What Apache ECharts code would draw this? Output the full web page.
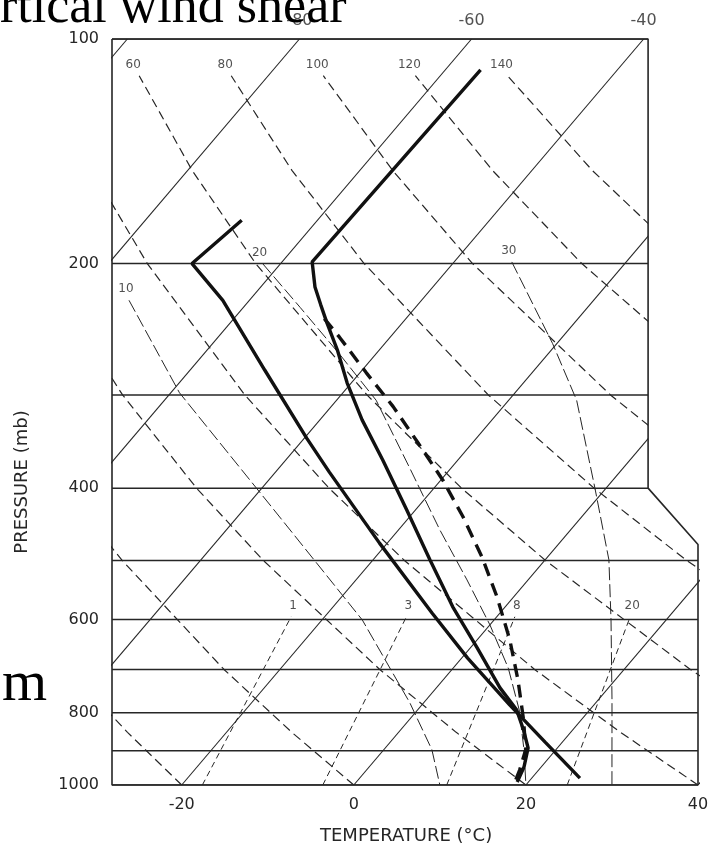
<!DOCTYPE html>
<html><head><meta charset="utf-8">
<script src="https://cdn.jsdelivr.net/npm/echarts@6/dist/echarts.min.js"></script>
<style>html,body{margin:0;padding:0;background:#fff}#chart{width:724px;height:852px}</style>
</head><body><div id="chart"></div>
<script>
// ---------- data (temperature °C, pressure mb) ----------
const pressureTicks = [100, 200, 400, 600, 800, 1000];
const temperatureTicks = [-20, 0, 20, 40];
const topIsothermLabels = [-80, -60, -40];
const isobars = [100, 200, 300, 400, 500, 600, 700, 800, 900, 1000];
const isotherms = [-120, -100, -80, -60, -40, -20, 0, 20, 40];

// dry adiabats [T, p]
const dryM20 = [[-20,1000],[-31.5,850],[-44.6,700],[-65.5,500]];
const dry0   = [[0,1000],[-12.4,850],[-26.5,700],[-49.1,500],[-63.0,400]];
const dry20  = [[20,1000],[6.7,850],[-8.4,700],[-32.7,500],[-47.6,400],[-65.4,300],[-88.1,200]];
const dry40  = [[40,1000],[25.8,850],[9.6,700],[-16.3,500],[-32.2,400],[-51.2,300],[-75.5,200],[-91.1,150]];
const dry60  = [[44.9,850],[27.7,700],[0.1,500],[-16.8,400],[-37.0,300],[-62.9,200],[-79.5,150],[-95.0,112]];
const dry80  = [[45.7,700],[16.5,500],[-1.4,400],[-22.9,300],[-50.3,200],[-67.9,150],[-84.3,112]];
const dry100 = [[32.9,500],[14.0,400],[-8.7,300],[-37.7,200],[-56.2,150],[-73.6,112]];
const dry120 = [[29.4,400],[5.5,300],[-25.0,200],[-44.6,150],[-62.9,112]];
const dry140 = [[19.7,300],[-12.4,200],[-33.0,150],[-52.2,112]];
const dryLabels = ['', '', '', '', '60', '80', '100', '120', '140'];

// moist adiabats [T, p]
const moist10 = [[-74.0,224],[-59.0,298],[-37.0,424],[-15.3,601],[-1.6,776],[5.6,897],[10,1000]];
const moist20 = [[-62.1,200],[-53.4,229],[-44.1,265],[-35.4,305],[-24.8,376],[-15.2,455],[-7.1,531],[0.0,610],[6.4,697],[11.8,793],[16.3,897],[20,1000]];
const moist30 = [[-33.3,199],[-20.5,256],[-12.1,305],[-1.3,400],[7.4,499],[13.6,601],[21.6,769],[30,1000]];
const moistLabels = ['10', '20', '30'];

// mixing ratio lines [T, p]
const mix1  = [[-17.6,1000],[-23.9,595]];
const mix3  = [[-3.6,1000],[-10.5,595]];
const mix8  = [[10.8,1000],[2.1,595]];
const mix20 = [[24.8,1000],[15.5,595]];
const mixLabels = ['1', '3', '8', '20'];

// soundings [T, p]
const soundingA = [[-68.8,175],[-70.3,200],[-63.1,224],[-51.3,278],[-39.7,343],[-33.7,381],[-20.9,474],[-7.9,588],[0.7,676],[10.2,781],[18.0,876],[25.6,979]];
const soundingB = [[-55.9,110],[-56.5,199],[-53.7,215],[-51.3,227],[-48.8,240],[-44.9,261],[-40.5,289],[-35.1,324],[-28.7,367],[-21.0,428],[-13.4,499],[-6.1,577],[0.8,655],[7.4,741],[11.5,793],[14.3,844],[16.6,892],[18.0,946],[18.7,991]];
const parcelPath = [[-49.5,237],[-45.9,251],[-39.3,280],[-32.8,311],[-26.3,348],[-19.8,390],[-13.8,437],[-7.6,495],[-1.9,560],[3.8,639],[8.7,723],[13.3,818],[16.5,897],[17.8,955],[18.5,995]];

// ---------- diagram geometry ----------
const SKEW = 32;            // °C of skew per ln(1000/p)
const X_MIN = -28.1, X_MAX = 40;
const X_RIGHT_UPPER = 34.2; // right frame edge above 400 mb
const skew = (t, p) => t + SKEW * Math.log(1000 / p);
const FRAME = [[X_MIN,100],[X_RIGHT_UPPER,100],[X_RIGHT_UPPER,400],[X_MAX,476],[X_MAX,1000],[X_MIN,1000],[X_MIN,100]];
const MASK = [[X_RIGHT_UPPER,100],[X_MAX+1,100],[X_MAX+1,476],[X_MAX,476],[X_RIGHT_UPPER,400]];
const rightEdge = p => (p <= 400 ? X_RIGHT_UPPER : X_MAX);

const INK = '#262626';
const FONT = 'DejaVu Sans';

function curve(pts, style, z) {
  return { type: 'line', data: pts.map(([t, p]) => [skew(t, p), p]), symbol: 'none', silent: true,
           animation: false, clip: true, lineStyle: style, z: z };
}
function labelSeries(points, texts, offset, fontSize) {
  return { type: 'scatter', symbolSize: 0, silent: true, animation: false, clip: false, z: 8,
    data: points.map((pt, i) => ({ value: pt, name: texts[i] })),
    label: { show: true, position: 'inside', offset: offset, formatter: d => d.name,
             color: INK, fontFamily: FONT, fontSize: fontSize } };
}
const topOf = pts => pts.reduce((a, b) => (b[1] < a[1] ? b : a));

const series = [];
const thin = { color: INK, width: 1.1, type: 'solid' };
isobars.forEach(p => series.push({ type: 'line', data: [[X_MIN, p], [rightEdge(p), p]], symbol: 'none', silent: true,
  animation: false, lineStyle: { color: INK, width: 1.5 }, z: 2 }));
isotherms.forEach(t => series.push(curve([[t, 1000], [t, 100]], thin, 2)));
const dryAll = [dryM20, dry0, dry20, dry40, dry60, dry80, dry100, dry120, dry140];
dryAll.forEach(d => series.push(curve(d, { color: INK, width: 1.2, type: [9, 5] }, 2)));
const moistAll = [moist10, moist20, moist30];
moistAll.forEach(d => series.push(curve(d, { color: INK, width: 1, type: [13, 4] }, 2)));
const mixAll = [mix1, mix3, mix8, mix20];
mixAll.forEach(d => series.push(curve(d, { color: INK, width: 1, type: [6, 4] }, 2)));

// white mask outside the notched frame
series.push({ type: 'custom', silent: true, animation: false, z: 3, clip: false, data: [[0, 100]],
  renderItem: (params, api) => ({ type: 'polygon', shape: { points: MASK.map(pt => api.coord(pt)) },
    style: { fill: '#fff' } }) });
series.push({ type: 'line', data: FRAME, symbol: 'none', silent: true, animation: false, clip: false,
  lineStyle: { color: INK, width: 1.6 }, z: 4 });

// soundings
series.push(curve(soundingA, { color: '#111', width: 3.4, type: 'solid' }, 6));
series.push(curve(soundingB, { color: '#111', width: 3.4, type: 'solid' }, 6));
series.push(curve(parcelPath, { color: '#111', width: 3.4, type: [13, 8] }, 6));

// labels
series.push(labelSeries(topIsothermLabels.map(t => [skew(t, 100), 100]), topIsothermLabels.map(String), [0, -18], 16));
const dryTop = dryAll.map(topOf).slice(4).map(([t, p]) => [skew(t, p), p]);
series.push(labelSeries(dryTop, dryLabels.slice(4), [-6, -11], 12));
series.push(labelSeries(moistAll.map(topOf).map(([t, p]) => [skew(t, p), p]), moistLabels, [-3, -11], 12));
series.push(labelSeries(mixAll.map(topOf).map(([t, p]) => [skew(t, p), p]), mixLabels, [2, -11], 12));

const chart = echarts.init(document.getElementById('chart'), null, { renderer: 'canvas' });
chart.setOption({
  backgroundColor: '#fff',
  animation: false,
  grid: { left: 112, top: 39, width: 586, height: 746 },
  xAxis: { type: 'value', min: X_MIN, max: X_MAX,
    axisLine: { show: false }, axisTick: { show: false }, splitLine: { show: false },
    axisLabel: { customValues: temperatureTicks, margin: 12, color: INK, fontFamily: FONT, fontSize: 16,
                 formatter: v => String(v) } },
  yAxis: { type: 'log', logBase: 10, inverse: true, min: 100, max: 1000,
    axisLine: { show: false }, axisTick: { show: false }, splitLine: { show: false },
    axisLabel: { customValues: pressureTicks, margin: 13, color: INK, fontFamily: FONT, fontSize: 16,
                 formatter: v => String(Math.round(v)) } },
  graphic: [
    { type: 'text', z: 100, left: 320, top: 827, style: { text: 'TEMPERATURE (°C)', fill: INK, font: '18px "DejaVu Sans"' } },
    { type: 'text', z: 100, x: 22, y: 482, rotation: Math.PI / 2, style: { text: 'PRESSURE (mb)', fill: INK, font: '18px "DejaVu Sans"', align: 'center', verticalAlign: 'middle' } },
    { type: 'text', z: 100, x: 0, y: -18, style: { text: 'rtical wind shear', fill: '#000', font: '52px "Liberation Serif"', verticalAlign: 'top' } },
    { type: 'text', z: 100, x: 2, y: 656, style: { text: 'm', fill: '#000', font: '58px "Liberation Serif"', verticalAlign: 'top' } }
  ],
  series: series
});
</script></body></html>
